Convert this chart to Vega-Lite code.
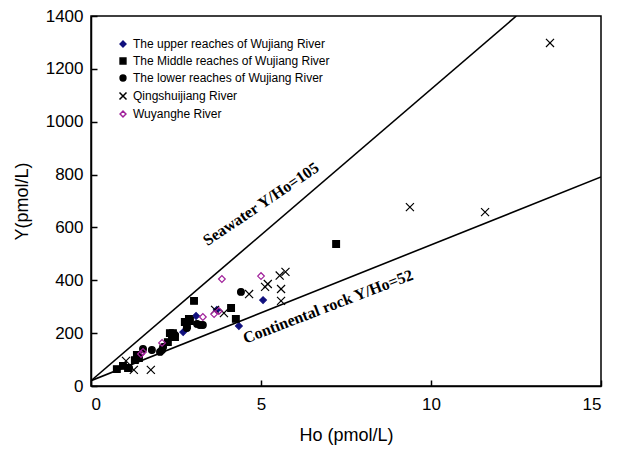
{
  "$schema": "https://vega.github.io/schema/vega-lite/v6.json",
  "width": 510,
  "height": 370,
  "autosize": {"type": "none"},
  "padding": {"left": 91, "top": 16, "right": 19, "bottom": 68},
  "background": "white",
  "config": {
    "view": {"stroke": "black", "strokeWidth": 1.5},
    "font": "Liberation Sans",
    "axis": {
      "grid": false,
      "domainColor": "black",
      "domainWidth": 1.5,
      "tickColor": "black",
      "tickWidth": 1.5,
      "tickSize": -6,
      "labelColor": "black",
      "titleColor": "black",
      "labelFont": "Liberation Sans",
      "titleFont": "Liberation Sans",
      "labelFontSize": 17,
      "titleFontSize": 18,
      "titleFontWeight": "normal"
    },
    "legend": {
      "labelFont": "Liberation Sans",
      "labelFontSize": 12,
      "labelColor": "black",
      "labelLimit": 0
    }
  },
  "datasets": {
    "pts": [
      {"group": "The upper reaches of Wujiang River", "Ho": 5.06, "Y": 325},
      {"group": "The upper reaches of Wujiang River", "Ho": 4.35, "Y": 227},
      {"group": "The upper reaches of Wujiang River", "Ho": 3.09, "Y": 265},
      {"group": "The upper reaches of Wujiang River", "Ho": 2.71, "Y": 204},
      {"group": "The upper reaches of Wujiang River", "Ho": 3.7, "Y": 288},
      {"group": "The Middle reaches of Wujiang River", "Ho": 7.21, "Y": 537},
      {"group": "The Middle reaches of Wujiang River", "Ho": 3.03, "Y": 322},
      {"group": "The Middle reaches of Wujiang River", "Ho": 4.12, "Y": 295},
      {"group": "The Middle reaches of Wujiang River", "Ho": 4.26, "Y": 254},
      {"group": "The Middle reaches of Wujiang River", "Ho": 2.88, "Y": 254},
      {"group": "The Middle reaches of Wujiang River", "Ho": 2.82, "Y": 231},
      {"group": "The Middle reaches of Wujiang River", "Ho": 2.91, "Y": 246},
      {"group": "The Middle reaches of Wujiang River", "Ho": 2.32, "Y": 200},
      {"group": "The Middle reaches of Wujiang River", "Ho": 2.41, "Y": 200},
      {"group": "The Middle reaches of Wujiang River", "Ho": 2.47, "Y": 185},
      {"group": "The Middle reaches of Wujiang River", "Ho": 2.26, "Y": 166},
      {"group": "The Middle reaches of Wujiang River", "Ho": 1.35, "Y": 117},
      {"group": "The Middle reaches of Wujiang River", "Ho": 1.41, "Y": 106},
      {"group": "The Middle reaches of Wujiang River", "Ho": 1.29, "Y": 98},
      {"group": "The Middle reaches of Wujiang River", "Ho": 0.94, "Y": 76},
      {"group": "The Middle reaches of Wujiang River", "Ho": 0.76, "Y": 64},
      {"group": "The Middle reaches of Wujiang River", "Ho": 1.09, "Y": 68},
      {"group": "The Middle reaches of Wujiang River", "Ho": 2.76, "Y": 242},
      {"group": "The lower reaches of Wujiang River", "Ho": 4.41, "Y": 356},
      {"group": "The lower reaches of Wujiang River", "Ho": 3.12, "Y": 235},
      {"group": "The lower reaches of Wujiang River", "Ho": 3.29, "Y": 231},
      {"group": "The lower reaches of Wujiang River", "Ho": 3.2, "Y": 231},
      {"group": "The lower reaches of Wujiang River", "Ho": 2.82, "Y": 219},
      {"group": "The lower reaches of Wujiang River", "Ho": 2.12, "Y": 148},
      {"group": "The lower reaches of Wujiang River", "Ho": 2.09, "Y": 136},
      {"group": "The lower reaches of Wujiang River", "Ho": 1.79, "Y": 136},
      {"group": "The lower reaches of Wujiang River", "Ho": 1.53, "Y": 140},
      {"group": "The lower reaches of Wujiang River", "Ho": 1.12, "Y": 68},
      {"group": "The lower reaches of Wujiang River", "Ho": 2.38, "Y": 185},
      {"group": "The lower reaches of Wujiang River", "Ho": 2.47, "Y": 193},
      {"group": "The lower reaches of Wujiang River", "Ho": 2.03, "Y": 129},
      {"group": "Qingshuijiang  River", "Ho": 13.5, "Y": 1298},
      {"group": "Qingshuijiang  River", "Ho": 9.38, "Y": 677},
      {"group": "Qingshuijiang  River", "Ho": 11.59, "Y": 658},
      {"group": "Qingshuijiang  River", "Ho": 5.55, "Y": 418},
      {"group": "Qingshuijiang  River", "Ho": 5.72, "Y": 432},
      {"group": "Qingshuijiang  River", "Ho": 5.12, "Y": 375},
      {"group": "Qingshuijiang  River", "Ho": 5.2, "Y": 386},
      {"group": "Qingshuijiang  River", "Ho": 5.59, "Y": 367},
      {"group": "Qingshuijiang  River", "Ho": 5.59, "Y": 322},
      {"group": "Qingshuijiang  River", "Ho": 4.65, "Y": 348},
      {"group": "Qingshuijiang  River", "Ho": 3.65, "Y": 288},
      {"group": "Qingshuijiang  River", "Ho": 3.91, "Y": 276},
      {"group": "Qingshuijiang  River", "Ho": 1.03, "Y": 95},
      {"group": "Qingshuijiang  River", "Ho": 1.26, "Y": 61},
      {"group": "Qingshuijiang  River", "Ho": 1.76, "Y": 61},
      {"group": "Wuyanghe River", "Ho": 5.0, "Y": 416},
      {"group": "Wuyanghe River", "Ho": 3.85, "Y": 405},
      {"group": "Wuyanghe River", "Ho": 3.29, "Y": 261},
      {"group": "Wuyanghe River", "Ho": 3.62, "Y": 272},
      {"group": "Wuyanghe River", "Ho": 3.76, "Y": 284},
      {"group": "Wuyanghe River", "Ho": 2.09, "Y": 163},
      {"group": "Wuyanghe River", "Ho": 1.47, "Y": 121},
      {"group": "Wuyanghe River", "Ho": 1.53, "Y": 129}
    ],
    "lines": [
      {"line": "Seawater", "Ho": 0, "Y": 20},
      {"line": "Seawater", "Ho": 12.51, "Y": 1400},
      {"line": "Continental rock", "Ho": 0, "Y": 20},
      {"line": "Continental rock", "Ho": 15, "Y": 791}
    ],
    "seaLabel": [{"text": "Seawater Y/Ho=105", "Ho": 5.0, "Y": 688}],
    "rockLabel": [{"text": "Continental  rock Y/Ho=52", "Ho": 6.97, "Y": 300}]
  },
  "layer": [
    {
      "data": {"name": "lines"},
      "mark": {"type": "line", "color": "black", "strokeWidth": 1.6, "clip": true},
      "encoding": {
        "x": {"field": "Ho", "type": "quantitative"},
        "y": {"field": "Y", "type": "quantitative"},
        "detail": {"field": "line"}
      }
    },
    {
      "data": {"name": "seaLabel"},
      "mark": {"type": "text", "font": "Liberation Serif", "fontWeight": "bold", "fontSize": 16, "angle": -34, "align": "center", "baseline": "middle", "color": "black"},
      "encoding": {
        "x": {"field": "Ho", "type": "quantitative"},
        "y": {"field": "Y", "type": "quantitative"},
        "text": {"field": "text"}
      }
    },
    {
      "data": {"name": "rockLabel"},
      "mark": {"type": "text", "font": "Liberation Serif", "fontWeight": "bold", "fontSize": 16, "angle": -21, "align": "center", "baseline": "middle", "color": "black"},
      "encoding": {
        "x": {"field": "Ho", "type": "quantitative"},
        "y": {"field": "Y", "type": "quantitative"},
        "text": {"field": "text"}
      }
    },
    {
      "data": {"name": "pts"},
      "mark": {"type": "point", "size": 45, "strokeWidth": 1.2, "opacity": 1},
      "encoding": {
        "x": {
          "field": "Ho", "type": "quantitative",
          "scale": {"domain": [0, 15], "nice": false},
          "axis": {"values": [0, 5, 10, 15], "title": "Ho (pmol/L)", "labelPadding": 16, "titlePadding": 14}
        },
        "y": {
          "field": "Y", "type": "quantitative",
          "scale": {"domain": [0, 1400], "nice": false},
          "axis": {"values": [0, 200, 400, 600, 800, 1000, 1200, 1400], "format": "d", "title": "Y(pmol/L)", "labelPadding": 14, "titlePadding": 14}
        },
        "shape": {
          "field": "group", "type": "nominal",
          "scale": {
            "domain": ["The upper reaches of Wujiang River", "The Middle reaches of Wujiang River", "The lower reaches of Wujiang River", "Qingshuijiang  River", "Wuyanghe River"],
            "range": ["diamond", "square", "circle", "M-1.2,-1.2L1.2,1.2M-1.2,1.2L1.2,-1.2", "diamond"]
          },
          "legend": {"title": null, "orient": "none", "legendX": 26, "legendY": 22, "padding": 0, "rowPadding": 5, "symbolSize": 34, "labelOffset": 4}
        },
        "fill": {
          "field": "group", "type": "nominal",
          "scale": {
            "domain": ["The upper reaches of Wujiang River", "The Middle reaches of Wujiang River", "The lower reaches of Wujiang River", "Qingshuijiang  River", "Wuyanghe River"],
            "range": ["#10107e", "black", "black", "transparent", "transparent"]
          },
          "legend": {"title": null, "orient": "none", "legendX": 26, "legendY": 22, "padding": 0, "rowPadding": 5, "symbolSize": 34, "labelOffset": 4}
        },
        "stroke": {
          "field": "group", "type": "nominal",
          "scale": {
            "domain": ["The upper reaches of Wujiang River", "The Middle reaches of Wujiang River", "The lower reaches of Wujiang River", "Qingshuijiang  River", "Wuyanghe River"],
            "range": ["#10107e", "black", "black", "black", "#a0209a"]
          },
          "legend": {"title": null, "orient": "none", "legendX": 26, "legendY": 22, "padding": 0, "rowPadding": 5, "symbolSize": 34, "labelOffset": 4}
        }
      }
    }
  ]
}
